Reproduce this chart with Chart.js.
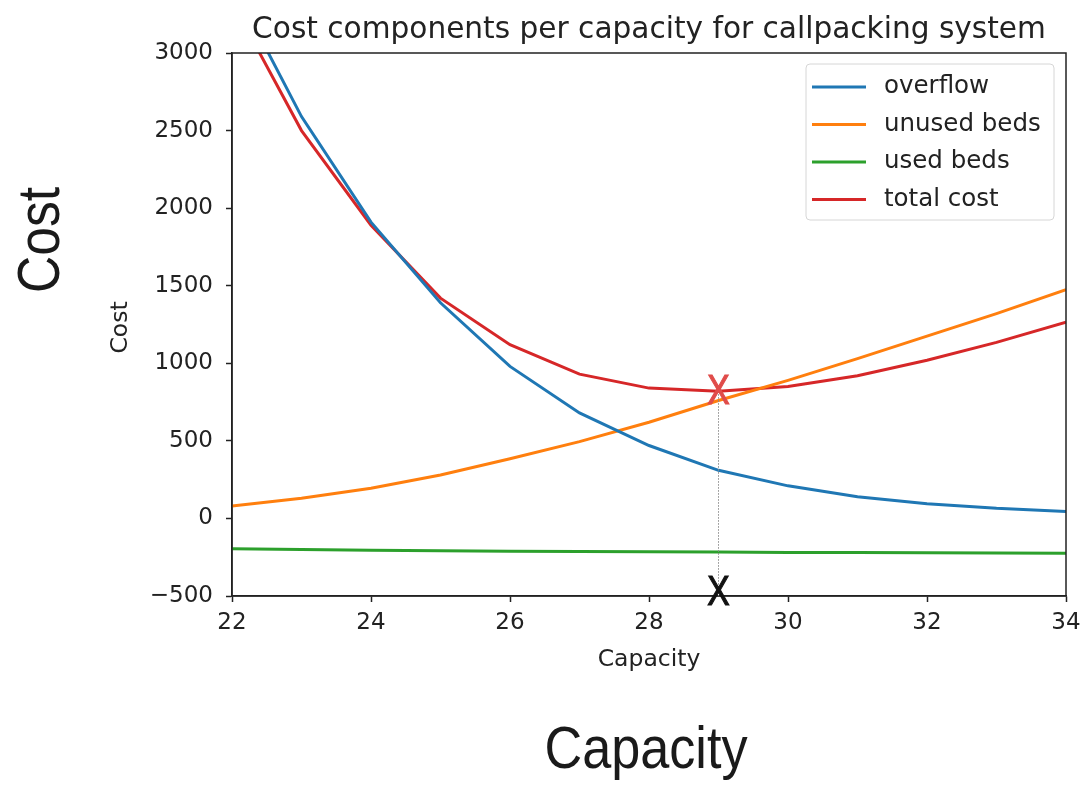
<!DOCTYPE html>
<html>
<head>
<meta charset="utf-8">
<script src="https://cdn.jsdelivr.net/npm/chart.js@4.4.1/dist/chart.umd.min.js"></script>
<style>
  html, body { margin: 0; padding: 0; background: #fff; }
  #wrap { width: 1089px; height: 786px; position: relative; }
</style>
</head>
<body>
<div id="wrap"><canvas id="chart"></canvas></div>
<script>
// values
const capacity = [22, 23, 24, 25, 26, 27, 28, 29, 30, 31, 32, 33, 34];
const overflow = [3450, 2590, 1910, 1390, 980, 680, 470, 310, 210, 140, 95, 65, 45];
const unusedBeds = [80, 130, 195, 280, 385, 495, 620, 760, 890, 1030, 1175, 1320, 1475];
const usedBeds = [-195, -200, -205, -208, -211, -213, -215, -217, -219, -220, -222, -223, -225];
const totalCost = [3330, 2500, 1890, 1420, 1120, 930, 840, 820, 850, 920, 1020, 1135, 1265];
const seriesNames = ["overflow", "unused beds", "used beds", "total cost"];
const seriesColors = ["#1f77b4", "#ff7f0e", "#2ca02c", "#d62728"];
const optimumCapacity = 29;
const optimumCost = 820;
const xTicks = [22, 24, 26, 28, 30, 32, 34];

const seriesValues = [overflow, unusedBeds, usedBeds, totalCost];
const datasets = seriesValues.map((vals, i) => ({
  label: seriesNames[i],
  data: capacity.map((c, j) => ({ x: c, y: vals[j] })),
  borderColor: seriesColors[i],
  backgroundColor: seriesColors[i],
  borderWidth: 3,
  pointRadius: 0,
  tension: 0,
  fill: false,
}));

const axisFont = { family: "'DejaVu Sans', sans-serif", size: 23 };

// draws a condensed text (the big slide labels and the X marks)
function narrowText(ctx, text, x, y, font, squeeze, angle, stroke) {
  ctx.save();
  ctx.translate(x, y);
  if (angle) ctx.rotate(angle);
  ctx.scale(squeeze, 1);
  ctx.font = font;
  ctx.fillText(text, 0, 0);
  if (stroke) {
    ctx.strokeStyle = ctx.fillStyle;
    ctx.lineWidth = stroke;
    ctx.strokeText(text, 0, 0);
  }
  ctx.restore();
}

const decorations = {
  id: "decorations",
  afterDatasetsDraw(chart) {
    const { ctx, chartArea: a, scales } = chart;
    const xs = scales.x, ys = scales.y;
    ctx.save();

    // frame (matplotlib spines)
    ctx.strokeStyle = "#222";
    ctx.lineWidth = 1.5;
    ctx.strokeRect(a.left, a.top, a.right - a.left, a.bottom - a.top);

    // dotted guide at the optimum
    const ox = xs.getPixelForValue(optimumCapacity);
    const oy = ys.getPixelForValue(optimumCost);
    ctx.strokeStyle = "#8a8a8a";
    ctx.lineWidth = 1;
    ctx.setLineDash([1.5, 1.5]);
    ctx.beginPath();
    ctx.moveTo(ox, oy);
    ctx.lineTo(ox, ys.getPixelForValue(ys.min));
    ctx.stroke();
    ctx.setLineDash([]);

    // X markers
    ctx.textAlign = "center";
    ctx.textBaseline = "middle";
    const xFont = "42px 'Liberation Sans', 'Arial', sans-serif";
    ctx.fillStyle = "#e04c4a";
    narrowText(ctx, "X", ox, oy + 1, xFont, 0.8, 0, 1.2);
    ctx.fillStyle = "#111";
    narrowText(ctx, "X", ox, ys.getPixelForValue(ys.min) - 3, xFont, 0.8, 0, 1.2);

    // title
    ctx.fillStyle = "#222";
    ctx.font = "29.6px 'DejaVu Sans', sans-serif";
    ctx.fillText("Cost components per capacity for callpacking system", (a.left + a.right) / 2, a.top - 23);

    // axis titles
    ctx.font = "23.5px 'DejaVu Sans', sans-serif";
    ctx.fillText("Capacity", (a.left + a.right) / 2, a.bottom + 64);
    ctx.save();
    ctx.translate(a.left - 111, (a.top + a.bottom) / 2 + 3);
    ctx.rotate(-Math.PI / 2);
    ctx.fillText("Cost", 0, 0);
    ctx.restore();

    // big condensed labels
    ctx.fillStyle = "#1a1a1a";
    const bigFont = "60px 'Liberation Sans', 'Arial', sans-serif";
    narrowText(ctx, "Capacity", 646, 751, bigFont, 0.87);
    narrowText(ctx, "Cost", 42, 240, bigFont, 0.86, -Math.PI / 2);

    // legend inside upper right
    const lx = 806, ly = 64, lw = 248, lh = 156;
    ctx.fillStyle = "rgba(255,255,255,0.85)";
    ctx.strokeStyle = "#d6d6d6";
    ctx.lineWidth = 1;
    ctx.beginPath();
    ctx.roundRect(lx, ly, lw, lh, 4);
    ctx.fill();
    ctx.stroke();
    ctx.font = "24.5px 'DejaVu Sans', sans-serif";
    ctx.textAlign = "left";
    chart.data.datasets.forEach((ds, i) => {
      const y = ly + 23 + i * 37.5;
      ctx.strokeStyle = ds.borderColor;
      ctx.lineWidth = 3;
      ctx.beginPath();
      ctx.moveTo(lx + 6, y);
      ctx.lineTo(lx + 60, y);
      ctx.stroke();
      ctx.fillStyle = "#222";
      ctx.fillText(ds.label, lx + 78, y);
    });
    ctx.restore();
  },
};

new Chart(document.getElementById("chart"), {
  type: "line",
  data: { datasets },
  options: {
    responsive: true,
    maintainAspectRatio: false,
    animation: false,
    layout: { padding: { top: 53, right: 23, bottom: 150, left: 0 } },
    plugins: {
      legend: { display: false },
      title: { display: false },
      tooltip: { enabled: false },
    },
    scales: {
      x: {
        type: "linear",
        min: 22,
        max: 34,
        afterBuildTicks: (scale) => { scale.ticks = xTicks.map((v) => ({ value: v })); },
        afterFit: (scale) => { scale.height = 40; },
        ticks: { font: axisFont, color: "#222", padding: 7, maxRotation: 0 },
        grid: { drawOnChartArea: false, tickLength: 6, color: "#222", tickWidth: 1.5 },
        border: { display: true, color: "#222", width: 1.5 },
      },
      y: {
        min: -500,
        max: 3000,
        afterFit: (scale) => { scale.width = 232; },
        ticks: {
          stepSize: 500,
          font: axisFont,
          color: "#222",
          padding: 13,
          callback: (v) => String(v).replace("-", "\u2212"),
        },
        grid: { drawOnChartArea: false, tickLength: 6, color: "#222", tickWidth: 1.5 },
        border: { display: true, color: "#222", width: 1.5 },
      },
    },
  },
  plugins: [decorations],
});
</script>
</body>
</html>
